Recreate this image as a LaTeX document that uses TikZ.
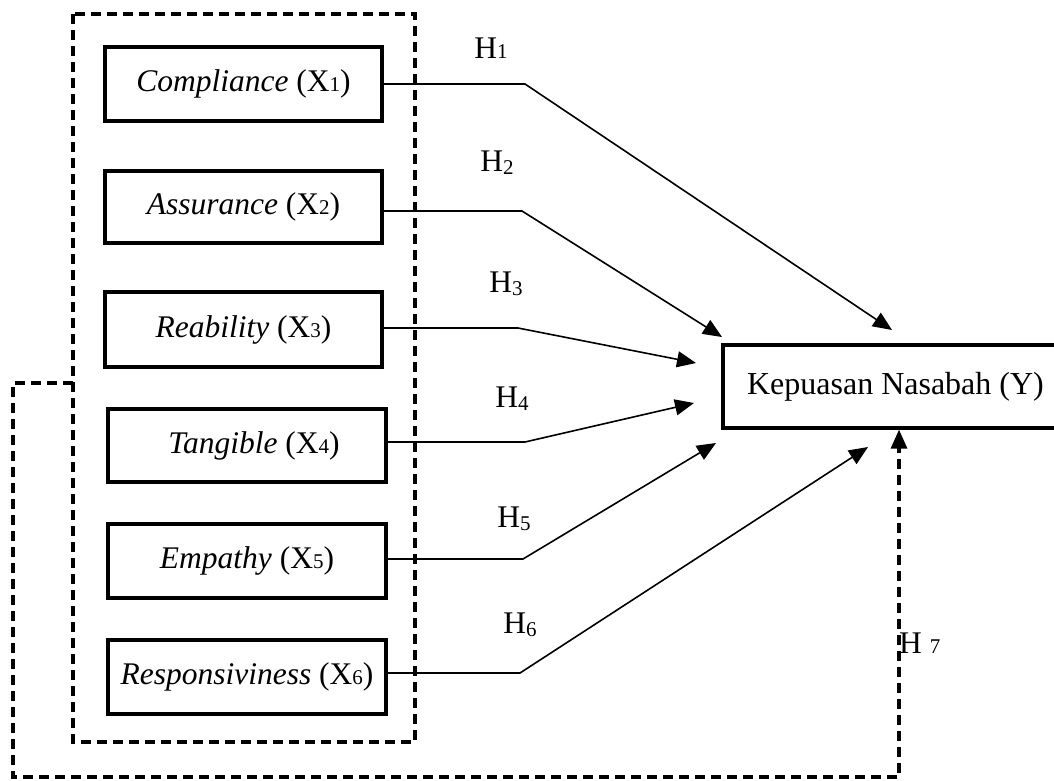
\documentclass[tikz,border=0pt]{standalone}
\usepackage{fontspec}
\setmainfont{Liberation Serif}
\usetikzlibrary{arrows.meta}
\newcommand\sbd[1]{{\fontsize{21}{25}\selectfont #1}}
\newcommand\sbl[1]{\raisebox{-3pt}{\sbd{#1}}}
\begin{document}
\begin{tikzpicture}[x=1pt,y=-1pt,
  var/.style={draw, line width=3.2pt, minimum width=277pt, minimum height=74pt, inner sep=0pt, font=\fontsize{31.5}{37}\selectfont},
  lbl/.style={font=\fontsize{31.5}{37}\selectfont, inner sep=0pt},
  conn/.style={line width=1.6pt, -{Triangle[length=19pt,width=16pt]}},
  grp/.style={line width=3.2pt, dash pattern=on 10pt off 6pt},
]
\useasboundingbox (0,0) rectangle (1054,780);
% group box
\draw[grp] (73,14) rectangle (415,742);
% variable boxes
\node[var] (c1) at (243.5,84)  {\textit{Compliance} (X\sbd{1})};
\node[var, minimum height=72pt] (c2) at (243.5,207) {\textit{Assurance} (X\sbd{2})};
\node[var, minimum height=75pt] (c3) at (243.5,329.5) {\textit{Reability} (X\sbd{3})};
\node[var, minimum width=278pt, minimum height=73pt] (c4) at (247,445.5) {\hspace{14pt}\textit{Tangible} (X\sbd{4})};
\node[var, minimum width=278pt] (c5) at (247,561) {\textit{Empathy} (X\sbd{5})};
\node[var, minimum width=278pt] (c6) at (247,677) {\textit{Responsiviness} (X\sbd{6})};
% dependent
\node[draw, line width=3.2pt, minimum width=339pt, minimum height=83pt, inner sep=0pt, font=\fontsize{32}{38}\selectfont] (y) at (892.5,386.5) {\hspace{6pt}Kepuasan Nasabah (Y)};
% bend points and tips
\coordinate (b1) at (525,84);  \coordinate (t1) at (892,330);
\coordinate (b2) at (522,211); \coordinate (t2) at (722,337);
\coordinate (b3) at (518,328); \coordinate (t3) at (696,363);
\coordinate (b4) at (525,442); \coordinate (t4) at (694,403);
\coordinate (b5) at (523,559); \coordinate (t5) at (716,443);
\coordinate (b6) at (520,673); \coordinate (t6) at (868,447);
\draw[conn] (c1.east) -- (b1) -- (t1);
\draw[conn] ([yshift=-4pt]c2.east) -- (b2) -- (t2);
\draw[conn] ([yshift=1.5pt]c3.east) -- (b3) -- (t3);
\draw[conn] ([yshift=3.5pt]c4.east) -- (b4) -- (t4);
\draw[conn] ([yshift=2pt]c5.east) -- (b5) -- (t5);
\draw[conn] ([yshift=4pt]c6.east) -- (b6) -- (t6);
% labels
\node[lbl] (h1) at (491,48)  {H\sbd{1}};
\node[lbl] (h2) at (497,163) {H\sbl{2}};
\node[lbl] (h3) at (506,284) {H\sbl{3}};
\node[lbl] (h4) at (512,399) {H\sbl{4}};
\node[lbl] (h5) at (514,519) {H\sbl{5}};
\node[lbl] (h6) at (520,625) {H\sbl{6}};
\node[lbl, anchor=west] (h7) at (899,643) {H \sbd{7}};
% feedback
\coordinate (f0) at (73,383);
\coordinate (f1) at (13,383);
\coordinate (f2) at (13,777);
\coordinate (f3) at (899,777);
\draw[grp, -{Triangle[length=19pt,width=16pt]}] (f0) -- (f1) -- (f2) -- (f3) -- (f3 |- y.south);
\end{tikzpicture}
\end{document}
